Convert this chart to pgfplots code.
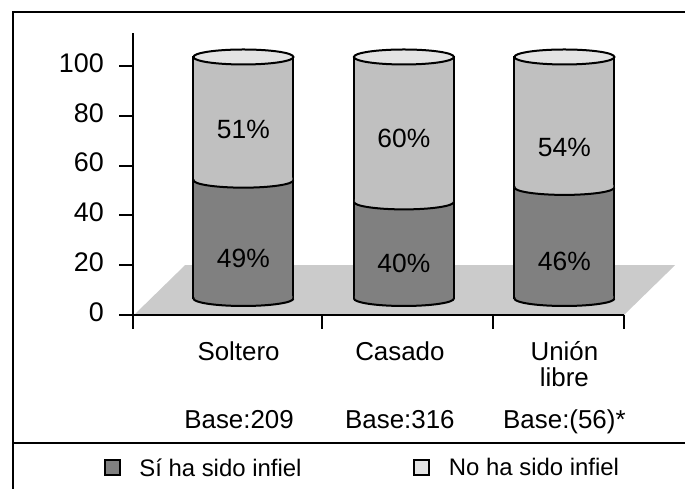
\documentclass[border=0pt]{standalone}
\usepackage{pgfplots}
\pgfplotsset{compat=1.18}
\usepackage{fontspec}
\setmainfont{Liberation Sans}
\definecolor{dk}{HTML}{808080}
\definecolor{lt}{HTML}{C0C0C0}
\definecolor{tp}{HTML}{E3E3E3}
\definecolor{fl}{HTML}{CBCBCB}
\newcommand\fnt{\fontsize{26}{30}\selectfont}
\newcommand\pfnt{\fontsize{26.5}{30}\selectfont}
\newcommand\tfnt{\fontsize{27}{30}\selectfont}
\newcommand\lfnt{\fontsize{24}{28}\selectfont}

\pgfdeclareplotmark{cyltop}{%
  \pgfpathellipse{\pgfpointorigin}{\pgfpoint{50bp}{0bp}}{\pgfpoint{0bp}{7.5bp}}%
  \pgfusepathqfillstroke}
\pgfdeclareplotmark{cylfront}{%
  \pgfpathmoveto{\pgfpoint{-50bp}{0bp}}%
  \pgfpatharc{180}{360}{50bp and 7.5bp}%
  \pgfpathlineto{\pgfpoint{49bp}{0bp}}%
  \pgfpathlineto{\pgfpoint{49bp}{2.5bp}}%
  \pgfpathlineto{\pgfpoint{-49bp}{2.5bp}}%
  \pgfpathlineto{\pgfpoint{-49bp}{0bp}}%
  \pgfpathclose
  \pgfusepathqfill
  \pgfpathmoveto{\pgfpoint{-50bp}{0bp}}%
  \pgfpatharc{180}{360}{50bp and 7.5bp}%
  \pgfusepathqstroke}

\begin{document}
\begin{tikzpicture}[x=1bp,y=1bp]
\useasboundingbox (0,0) rectangle (685,489);
% outer frame and legend separator
\draw[line width=2bp] (13,-10) -- (13,477.3) -- (700,477.3);
\draw[line width=2bp] (13,46) -- (700,46);

% axis with scale, x line and floor
\begin{axis}[
  at={(133bp,174bp)}, anchor=south west, scale only axis,
  width=491bp, height=282bp,
  xmin=0, xmax=491, ymin=0, ymax=113.25,
  axis lines=left, axis line style={-, line width=2bp},
  axis on top, clip=false,
  xtick={0,189,360,491}, xticklabels={},
  ytick={0,20,40,60,80,100},
  tick align=outside, major tick length=14bp,
  tick style={black, line width=2bp},
  yticklabel style={font=\tfnt, anchor=east, inner sep=0pt, xshift=-15bp, yshift=3bp},
  /pgf/number format/assume math mode=true,
]
\addplot[fill=fl, draw=none] coordinates {(1,0) (491,0) (542,20) (52,20)};
\end{axis}

% cylinder bodies (stacked)
\begin{axis}[
  at={(131.05bp,190.5bp)}, anchor=south west, scale only axis,
  width=545.7bp, height=253.575bp,
  xmin=-0.7, xmax=2.7, ymin=0, ymax=105,
  hide axis, clip=false,
  ybar stacked, bar width=100bp,
]
\addplot[fill=dk, draw=black, line width=2bp] coordinates {(0,49) (1,40) (2,46)};
\addplot[fill=lt, draw=black, line width=2bp] coordinates {(0,51) (1,60) (2,54)};
\end{axis}

% cylinder caps, labels, legend
\begin{axis}[
  at={(131.05bp,190.5bp)}, anchor=south west, scale only axis,
  width=545.7bp, height=253.575bp,
  xmin=-0.7, xmax=2.7, ymin=0, ymax=105,
  hide axis, clip=false,
  legend columns=2,
  legend image code/.code={\draw[#1, line width=2bp] (0bp,-7.5bp) rectangle (15bp,7.5bp);},
  legend style={draw=none, fill=none, inner sep=0pt, font=\lfnt,
    at={(-0.0503,-0.6684)}, anchor=west,
    nodes={inner sep=0pt},
    /tikz/every odd column/.append style={column sep=18.5bp},
    /tikz/every even column/.append style={column sep=112bp}},
]
\addlegendimage{fill=dk, draw=black}
\addlegendentry{Sí ha sido infiel}
\addlegendimage{fill=tp, draw=black}
\addlegendentry{No ha sido infiel}
\addplot[forget plot, only marks, mark=cylfront, mark options={fill=dk, draw=black, line width=2bp}] coordinates {(0,0) (1,0) (2,0)};
\addplot[forget plot, only marks, mark=cylfront, mark options={fill=lt, draw=black, line width=2bp}] coordinates {(0,49) (1,40) (2,46)};
\addplot[forget plot, only marks, mark=cyltop, mark options={fill=tp, draw=black, line width=2bp}] coordinates {(0,100) (1,100) (2,100)};
\node[font=\pfnt] at (axis cs:0,69.9) {51\%};
\node[font=\pfnt] at (axis cs:1,66.3) {60\%};
\node[font=\pfnt] at (axis cs:2,62.7) {54\%};
\node[font=\pfnt] at (axis cs:0,16.8) {49\%};
\node[font=\pfnt] at (axis cs:1,14.7) {40\%};
\node[font=\pfnt] at (axis cs:2,15.5) {46\%};
\node[font=\fnt, anchor=base] at (axis cs:-0.03,-25.5) {Soltero};
\node[font=\fnt, anchor=base] at (axis cs:0.975,-25.5) {Casado};
\node[font=\fnt, anchor=base] at (axis cs:2.0,-25.5) {Unión};
\node[font=\fnt, anchor=base] at (axis cs:2.0,-36.5) {libre};
\node[font=\fnt, anchor=base] at (axis cs:-0.027,-53.7) {Base:209};
\node[font=\fnt, anchor=base] at (axis cs:0.975,-53.7) {Base:316};
\node[font=\fnt, anchor=base] at (axis cs:2.0,-53.7) {Base:(56)*};
\end{axis}
\end{tikzpicture}
\end{document}
